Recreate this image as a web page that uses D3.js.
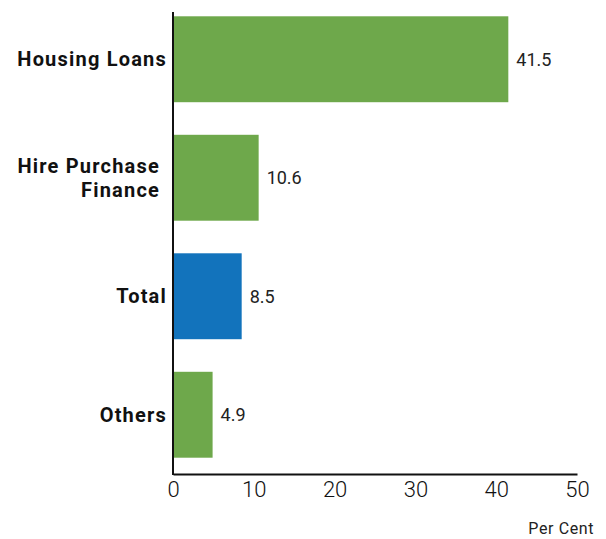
<!DOCTYPE html>
<html>
<head>
<meta charset="utf-8">
<script src="https://cdn.jsdelivr.net/npm/d3@7"></script>
<style>
  html, body { margin: 0; padding: 0; background: #fff; }
  svg { display: block; }
</style>
</head>
<body>
<svg id="chart" width="606" height="539"></svg>
<script>
// Loan categories and growth rates (per cent)
const categories = ["Housing Loans", "Hire Purchase\nFinance", "Total", "Others"];
const values = [41.5, 10.6, 8.5, 4.9];
const highlight = ["Total"];
const xTicks = [0, 10, 20, 30, 40, 50];
const axisTitle = "Per Cent";

const GREEN = "#6ea84b";
const BLUE = "#1273bc";
const FONT = "Roboto, sans-serif";

const svg = d3.select("#chart");

const x = d3.scaleLinear().domain([0, 50]).range([173, 577]);
const y = d3.scaleBand()
  .domain(categories)
  .range([0, 474])
  .paddingInner(0.275)
  .paddingOuter(0.1375);

// Bars
svg.append("g")
  .selectAll("rect")
  .data(categories)
  .join("rect")
  .attr("x", x(0))
  .attr("y", d => y(d))
  .attr("width", (d, i) => x(values[i]) - x(0))
  .attr("height", y.bandwidth())
  .attr("fill", d => highlight.includes(d) ? BLUE : GREEN);

// Value labels
svg.append("g")
  .selectAll("text")
  .data(categories)
  .join("text")
  .attr("x", (d, i) => x(values[i]) + 8)
  .attr("y", d => y(d) + y.bandwidth() / 2)
  .attr("dy", "0.35em")
  .attr("font-family", FONT)
  .attr("font-size", 18)
  .attr("fill", "#222")
  .text((d, i) => values[i].toFixed(1));

// Category labels (multi-line where needed)
const catG = svg.append("g");
categories.forEach(c => {
  const lines = c.split("\n");
  const lh = 24;
  const cy = y(c) + y.bandwidth() / 2;
  const right = lines.length > 1 ? x(0) - 13 : x(0) - 6;
  const t = catG.append("text")
    .attr("text-anchor", "end")
    .attr("font-family", FONT)
    .attr("font-weight", "bold")
    .attr("font-size", 20)
    .attr("letter-spacing", 1.2)
    .attr("fill", "#111");
  lines.forEach((ln, k) => {
    t.append("tspan")
      .attr("x", right)
      .attr("y", cy + (k - (lines.length - 1) / 2) * lh)
      .attr("dy", "0.35em")
      .text(ln);
  });
});

// Bottom axis
const xAxis = d3.axisBottom(x).tickValues(xTicks).tickSize(0).tickPadding(7);
const ax = svg.append("g").attr("transform", "translate(0,474)").call(xAxis);
ax.select(".domain").attr("stroke", "#111").attr("stroke-width", 2);
ax.selectAll("text")
  .attr("font-family", FONT)
  .attr("font-weight", 300)
  .attr("font-size", 22)
  .attr("fill", "#111");

// Left axis line
svg.append("line")
  .attr("x1", x(0)).attr("x2", x(0))
  .attr("y1", 12).attr("y2", 475)
  .attr("stroke", "#111")
  .attr("stroke-width", 2);

// Axis title
svg.append("text")
  .attr("x", 594)
  .attr("y", 534)
  .attr("text-anchor", "end")
  .attr("font-family", FONT)
  .attr("font-size", 16)
  .attr("letter-spacing", 0.6)
  .attr("fill", "#222")
  .text(axisTitle);
</script>
</body>
</html>
